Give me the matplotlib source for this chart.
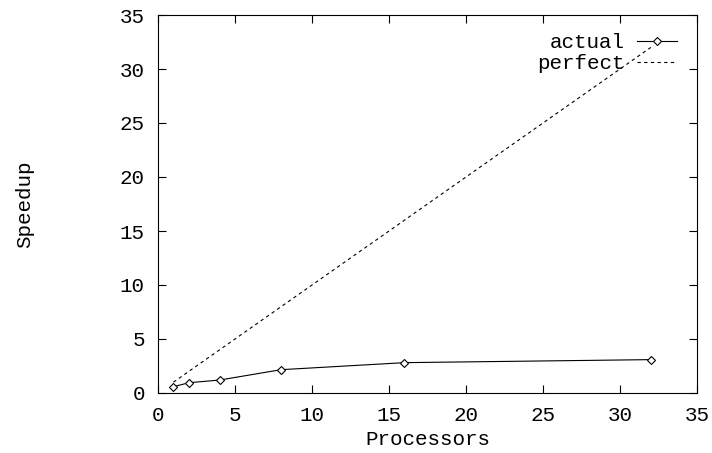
import matplotlib
matplotlib.use('Agg')
import matplotlib.pyplot as plt

processors = [1, 2, 4, 8, 16, 32]
actual_speedup = [0.58, 0.95, 1.2, 2.16, 2.81, 3.09]
perfect_speedup = [1, 2, 4, 8, 16, 32]

plt.rcParams['font.family'] = ['Liberation Mono', 'DejaVu Sans Mono']
plt.rcParams['font.size'] = 15


def make_figure():
    fig = plt.figure(figsize=(7.12, 4.53), dpi=100)
    ax = fig.add_axes([158 / 712, 1 - 393 / 453, (697 - 158) / 712, (393 - 15) / 453])

    ax.plot(processors, actual_speedup, color='black', linewidth=0.8,
            marker='D', markersize=4.5, markerfacecolor='white',
            markeredgewidth=0.8, label='actual')
    ax.plot(processors, perfect_speedup, color='black', linewidth=0.8,
            linestyle=(0, (3, 3)), label='perfect')

    ax.set_xlim(0, 35)
    ax.set_ylim(0, 35)
    ax.set_xticks(range(0, 36, 5))
    ax.set_yticks(range(0, 36, 5))
    ax.tick_params(direction='in', length=6, width=0.8, top=True, right=True,
                   pad=9.5)
    for spine in ax.spines.values():
        spine.set_linewidth(0.8)

    ax.set_xlabel('Processors')
    ax.set_ylabel('Speedup')
    ax.xaxis.set_label_coords(0.5, (393 - 430) / 378, transform=ax.transAxes)
    ax.yaxis.set_label_coords((34 - 158) / 539, 0.5, transform=ax.transAxes)

    ax.legend(loc='upper right', bbox_to_anchor=((677 - 158) / 539, (393 - 33) / 378),
              frameon=False, markerfirst=False, handlelength=1.9,
              handletextpad=0.6, borderpad=0, borderaxespad=0,
              labelspacing=0.1)
    return fig


fig = make_figure()
fig.savefig('out.png', dpi=100)
